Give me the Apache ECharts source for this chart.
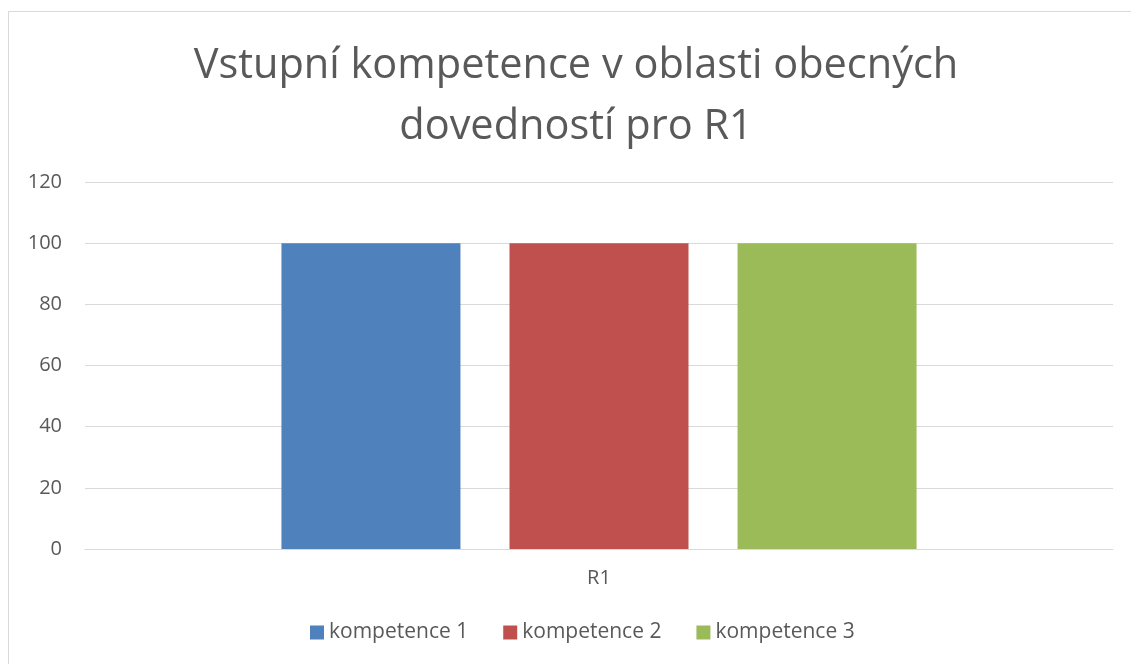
<!DOCTYPE html>
<html>
<head>
<meta charset="utf-8">
<script src="https://cdn.jsdelivr.net/npm/echarts@6/dist/echarts.min.js"></script>
<style>
  html, body { margin: 0; padding: 0; background: #fff; }
  #frame {
    position: absolute; left: 8px; top: 11px; width: 1123px; height: 653px;
    border-left: 1px solid #d9d9d9; border-top: 1px solid #d9d9d9; box-sizing: border-box;
  }
  #main { position: absolute; left: 0; top: 0; width: 1131px; height: 664px; }
</style>
</head>
<body>
<div id="frame"></div>
<div id="main"></div>
<script>
  const categories = ['R1']
  const seriesNames = ['kompetence 1', 'kompetence 2', 'kompetence 3']
  const seriesValues = [[100], [100], [100]]
  const colors = ['#4f81bd', '#c0504d', '#9bbb59']

  let chart = echarts.init(document.getElementById('main'))
  let option = {
    color: colors,
    textStyle: { fontFamily: 'Open Sans' },
    title: {
      text: 'Vstupní kompetence v oblasti obecných\ndovedností pro R1',
      left: 571,
      top: 31,
      textAlign: 'center',
      textStyle: { fontSize: 41.5, fontWeight: 'normal', color: '#595959', lineHeight: 61, fontFamily: 'Open Sans' }
    },
    legend: {
      bottom: 16,
      left: 305,
      itemWidth: 14,
      itemHeight: 14,
      itemGap: 35,
      icon: 'rect',
      textStyle: { fontSize: 21, color: '#595959' },
      data: seriesNames
    },
    grid: { left: 85, right: 18, top: 182, bottom: 115 },
    xAxis: {
      type: 'category',
      data: categories,
      axisTick: { show: false },
      axisLine: { lineStyle: { color: '#d9d9d9', width: 1 } },
      axisLabel: { fontSize: 20, color: '#595959', margin: 19 }
    },
    yAxis: {
      type: 'value',
      min: 0,
      max: 120,
      interval: 20,
      axisLine: { show: false },
      axisTick: { show: false },
      axisLabel: { fontSize: 20, color: '#595959', margin: 23 },
      splitLine: { lineStyle: { color: '#d9d9d9', width: 1 } }
    },
    series: seriesNames.map((name, i) => ({
      name: name,
      type: 'bar',
      data: seriesValues[i],
      barWidth: 179,
      barGap: '27.4%'
    }))
  }
  chart.setOption(option)
</script>
</body>
</html>
